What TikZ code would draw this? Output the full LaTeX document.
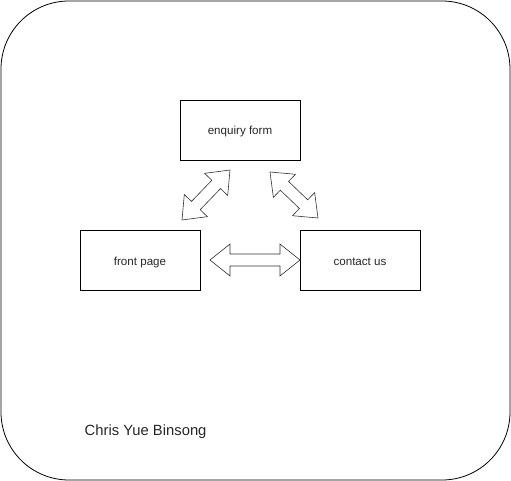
\documentclass[tikz,border=0pt]{standalone}
\usepackage{fontspec}
\setmainfont{Liberation Sans}
\usetikzlibrary{calc,positioning}

% hollow double-headed block arrow between two points
\newcommand{\dblarrow}[2]{%
  \draw[block] (#1)
    -- ($ ($(#1)!20pt!(#2)$)!16pt!90:(#2) $)
    -- ($ ($(#1)!20pt!(#2)$)!6pt!90:(#2) $)
    -- ($ ($(#2)!20pt!(#1)$)!6pt!-90:(#1) $)
    -- ($ ($(#2)!20pt!(#1)$)!16pt!-90:(#1) $)
    -- (#2)
    -- ($ ($(#2)!20pt!(#1)$)!16pt!90:(#1) $)
    -- ($ ($(#2)!20pt!(#1)$)!6pt!90:(#1) $)
    -- ($ ($(#1)!20pt!(#2)$)!6pt!-90:(#2) $)
    -- ($ ($(#1)!20pt!(#2)$)!16pt!-90:(#2) $)
    -- cycle;}

\begin{document}
\begin{tikzpicture}[x=1pt,y=-1pt,line width=0.8pt,
                    font=\fontsize{11.6}{13}\selectfont]
  \tikzstyle{page}=[draw=black,minimum width=120pt,minimum height=60pt,
                    inner sep=0pt,text=black!85,text height=10pt,text depth=0pt]
  \tikzstyle{block}=[draw=black!80,line width=0.6pt,fill=white,line join=miter]

  \useasboundingbox (0,0) rectangle (511,481);
  \draw[rounded corners=68pt] (1,1) rectangle (510,480);

  \node[page] (E) at (240,130) {enquiry form};
  \node[page] (F) at (140,260) {front page};
  \node[page] (C) at (360,260) {contact us};

  \coordinate (FE) at (182,220);
  \coordinate (EF) at (230,170);
  \coordinate (EC) at (270,172);
  \coordinate (CE) at (318,218);
  \coordinate (FC) at (210,260);
  \coordinate (CF) at (300,260);

  \dblarrow{FE}{EF}
  \dblarrow{EC}{CE}
  \dblarrow{FC}{CF}

  \node[anchor=west,font=\fontsize{14.8}{16}\selectfont,text=black!85] (name)
    at (81,432) {Chris Yue Binsong};
\end{tikzpicture}
\end{document}
